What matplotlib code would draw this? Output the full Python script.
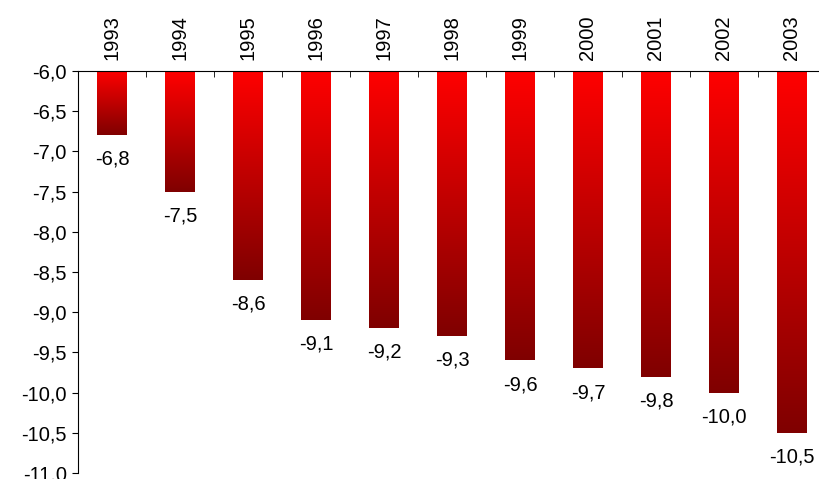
import matplotlib.pyplot as plt
import numpy as np

plt.rcParams['font.family'] = ['Liberation Sans', 'DejaVu Sans']

years = ['1993', '1994', '1995', '1996', '1997', '1998', '1999', '2000', '2001', '2002', '2003']
values = [-6.8, -7.5, -8.6, -9.1, -9.2, -9.3, -9.6, -9.7, -9.8, -10.0, -10.5]
yticks = [-6.0, -6.5, -7.0, -7.5, -8.0, -8.5, -9.0, -9.5, -10.0, -10.5, -11.0]

fig = plt.figure(figsize=(8.2, 4.79), dpi=100)
ax = fig.add_axes([78/820, 6/479, 748/820, 402/479])

# vertical gradient: bright red at top, dark red at bottom
grad = np.linspace(0, 1, 256).reshape(-1, 1)
cols = np.zeros((256, 1, 3))
cols[:, 0, 0] = 1.0 - 0.5 * grad[:, 0]

w = 0.43
for i, v in enumerate(values):
    ax.imshow(cols, extent=[i - w/2, i + w/2, v, -6.0], aspect='auto',
              interpolation='bilinear', zorder=2)
    ax.annotate(f'{v:.1f}'.replace('.', ','), (i, v), xytext=(0, -10.5),
                textcoords='offset points', ha='center', va='top', fontsize=14.5)

ax.set_xlim(-0.5, len(years) - 0.5)
ax.set_ylim(-11.0, -6.0)

ax.spines['right'].set_visible(False)
ax.spines['bottom'].set_visible(False)

ax.set_yticks(yticks)
ax.set_yticklabels([f'{t:.1f}'.replace('.', ',') for t in yticks], fontsize=14.5)
ax.tick_params(axis='y', direction='out', length=4, pad=4)

ax.xaxis.tick_top()
ax.set_xticks(np.arange(len(years)))
ax.set_xticklabels(years, rotation=90, fontsize=14.5)
ax.tick_params(axis='x', which='major', length=0, pad=8)
ax.set_xticks(np.arange(len(years)) + 0.5, minor=True)
ax.tick_params(axis='x', which='minor', direction='in', length=4, top=True)

fig.savefig('out.png', dpi=100)
